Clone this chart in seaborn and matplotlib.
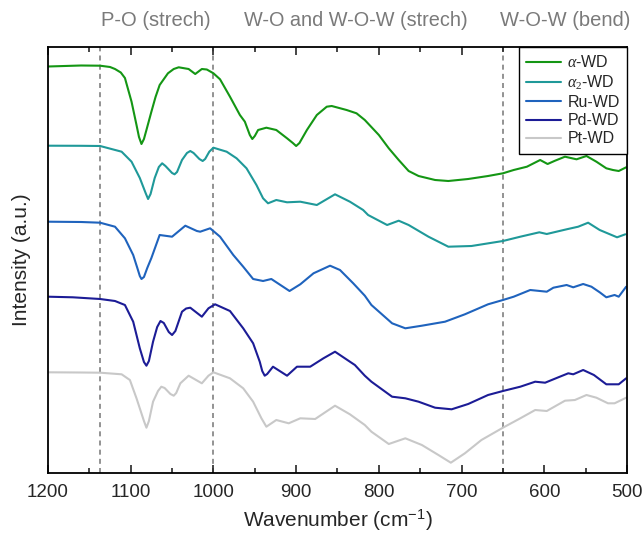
import matplotlib
matplotlib.use("Agg")
import matplotlib.pyplot as plt
from matplotlib.ticker import MultipleLocator
import numpy as np
import pandas as pd
import seaborn as sns

# ---- data (intensity in arbitrary units) ----
wn_a = [1200, 1180, 1160, 1137, 1125, 1119, 1112, 1107, 1099, 1093, 1090, 1087, 1084, 1081, 1075,
        1070, 1065, 1055, 1048, 1042, 1030, 1022, 1014, 1008, 1000, 992, 980, 968, 962, 956, 953,
        950, 946, 936, 924, 911, 904, 900, 896, 887, 875, 863, 857, 839, 827, 817, 800, 788, 776,
        764, 752, 732, 716, 692, 668, 650, 637, 621, 605, 596, 587, 575, 561, 549, 537, 525, 517,
        510, 501]
int_a = [406.5, 407, 407.5, 407.3, 406, 404, 400.5, 395, 371.3, 348, 336, 329, 334, 343, 361.3,
         376, 388, 399.7, 404, 405.7, 404, 399, 404, 403.5, 399.7, 393.7, 376.3, 358, 351.3, 338,
         334, 337, 343, 345.3, 343, 334.7, 330, 327, 330, 343, 358, 366.3, 367, 363, 359.7, 353,
         338, 324.7, 313, 302, 297, 293, 292, 294, 297, 299.7, 303, 306.3, 313, 309, 312.3, 316.3,
         313.7, 317, 311.3, 304.7, 303, 302, 305.7]

wn_a2 = [1200, 1160, 1137, 1111, 1099, 1089, 1082, 1079, 1076, 1071, 1066, 1062, 1058, 1050, 1047,
         1044, 1038, 1032, 1028, 1024, 1017, 1013, 1010, 1005, 1000, 984, 972, 960, 948, 940, 934,
         924, 911, 895, 875, 853, 835, 819, 813, 790, 776, 764, 740, 716, 688, 650, 629, 606, 597,
         573, 559, 547, 533, 512, 502]
int_a2 = [327.3, 327.2, 327, 321.3, 311.3, 295, 280, 274, 279, 295, 306, 309.7, 307, 300, 298.7,
          301, 313, 320, 322, 320, 314, 312, 314, 321.3, 325.3, 321.3, 314.7, 304.7, 288, 274.7,
          269.7, 273, 270.7, 271.3, 268, 278.7, 271.3, 263, 258, 248, 252.3, 248, 236.3, 226.3,
          227, 232, 236.3, 240.7, 239, 243.7, 246.3, 250.3, 243, 235.7, 238.7]

wn_ru = [1200, 1160, 1137, 1119, 1107, 1097, 1092, 1089, 1087, 1084, 1080, 1075, 1065, 1050, 1034,
         1020, 1016, 1004, 992, 976, 964, 952, 940, 930, 919, 908, 895, 879, 859, 847, 831, 817,
         809, 784, 768, 748, 720, 696, 668, 650, 637, 617, 597, 589, 573, 565, 553, 543, 533, 525,
         515, 510, 501]
int_ru = [251.3, 251, 250.3, 246.3, 234.7, 218, 205, 197, 194, 196, 205, 215, 238, 236.3, 247.3,
          242, 241.3, 244.7, 236.3, 218, 206.3, 194, 192, 194, 188, 182, 188.7, 199.7, 207.3, 203,
          189.7, 177.3, 168, 149.7, 144.7, 147.3, 151.3, 158.7, 168.7, 173, 176.3, 183, 181.3,
          185.3, 188, 185.7, 189, 186.3, 180.7, 175.7, 178, 176.3, 186.3]

wn_pd = [1200, 1170, 1137, 1119, 1107, 1097, 1089, 1084, 1081, 1078, 1073, 1068, 1064, 1060, 1054,
         1050, 1046, 1038, 1033, 1028, 1014, 1006, 998, 980, 964, 952, 944, 941, 938, 935, 928,
         911, 899, 883, 867, 853, 835, 829, 817, 809, 784, 768, 752, 732, 712, 692, 668, 650, 629,
         611, 599, 583, 571, 565, 553, 540, 525, 510, 501]
int_pd = [176.3, 175.7, 174, 172, 168, 151.3, 124.7, 111, 107.3, 112, 131.3, 146, 152, 150, 141,
          138, 142, 161.3, 164.5, 165.3, 156.3, 164.7, 168.7, 162, 144.7, 129.7, 111.3, 102, 97.3,
          99, 106.3, 97.3, 106.3, 106.3, 114.7, 121.3, 111.3, 108, 97.3, 91.3, 76.3, 74.7, 71.3,
          65.3, 63.7, 69, 78, 82, 86.3, 91.3, 90.3, 95.7, 99.7, 98.7, 103, 98, 88.7, 88.7, 94.7]

wn_pt = [1200, 1160, 1137, 1111, 1101, 1093, 1084, 1081, 1078, 1073, 1067, 1063, 1059, 1052, 1048,
         1045, 1040, 1030, 1014, 1006, 1000, 980, 964, 952, 942, 936, 924, 909, 895, 877, 853, 835,
         817, 809, 788, 768, 748, 728, 713, 696, 676, 650, 629, 611, 597, 575, 563, 549, 537, 523,
         515, 501]
int_pt = [100.7, 100.5, 100.3, 98.7, 93, 74.7, 52, 45.3, 52, 71.3, 82, 86.3, 85, 79, 77.3, 80,
          89.7, 97.3, 89.7, 97.3, 100.7, 94.7, 84.7, 71.3, 54.7, 46.3, 53, 49.7, 54.7, 54, 67.3,
          58.7, 48, 41.3, 29, 34.7, 28, 18, 10.3, 19.7, 33, 45.3, 54.7, 63, 62, 72.3, 73, 78, 75.3,
          69.7, 69.7, 75.3]

labels = [r"$\alpha$-WD", r"$\alpha_2$-WD", "Ru-WD", "Pd-WD", "Pt-WD"]
band_lines = [1137, 1000, 650]
band_labels = ["P-O (strech)", "W-O and W-O-W (strech)", "W-O-W (bend)"]
band_label_pos = [1070, 828, 575]

colors = ["#149614", "#1f9999", "#1f63bd", "#1c1c96", "#c8c8c8"]

series = [(wn_a, int_a), (wn_a2, int_a2), (wn_ru, int_ru), (wn_pd, int_pd), (wn_pt, int_pt)]
frames = []
for lab, (w, i) in zip(labels, series):
    frames.append(pd.DataFrame({"wn": w, "intensity": i, "sample": lab}))
df = pd.concat(frames, ignore_index=True)

# ---- plotting ----
sns.set_style("white")
plt.rcParams["font.family"] = ["Liberation Sans", "DejaVu Sans"]
plt.rcParams["mathtext.fontset"] = "custom"
plt.rcParams["mathtext.rm"] = "Liberation Serif"
plt.rcParams["mathtext.it"] = "Liberation Serif:italic"
plt.rcParams["mathtext.sf"] = "Liberation Sans"
plt.rcParams["lines.solid_joinstyle"] = "round"

fig = plt.figure(figsize=(6.44, 5.34), dpi=100)
ax = fig.add_axes([48 / 644, 1 - 473 / 534, (627 - 48) / 644, (473 - 47) / 534])

sns.lineplot(data=df, x="wn", y="intensity", hue="sample", palette=dict(zip(labels, colors)),
             sort=False, estimator=None, units="sample", linewidth=1.5, ax=ax, legend=False)

for b in band_lines:
    ax.axvline(b, color="#808080", linestyle=(0, (3, 2.5)), linewidth=1.2, zorder=0)

for t, p, fs in zip(band_labels, band_label_pos, [14.5, 14.3, 14.5]):
    ax.text(p, 1.062, t, transform=ax.get_xaxis_transform(), ha="center", va="center",
            fontsize=fs, color="#7a7a7a")

ax.set_xlim(1200, 500)
ax.set_ylim(0, 426)
ax.xaxis.set_major_locator(MultipleLocator(100))
ax.xaxis.set_minor_locator(MultipleLocator(50))
ax.tick_params(axis="x", which="major", direction="in", length=6, width=1.2, top=True, bottom=True,
               labelsize=13.5, pad=8)
ax.tick_params(axis="x", which="minor", direction="in", length=3.5, width=1.2, top=True, bottom=True)
ax.set_yticks([])
for s in ax.spines.values():
    s.set_linewidth(1.3)
    s.set_color("black")

ax.set_xlabel(r"Wavenumber (cm$^{\mathsf{-1}}$)", fontsize=15, labelpad=5)
ax.set_ylabel("Intensity (a.u.)", fontsize=15, labelpad=12)

handles = [plt.Line2D([], [], color=c, linewidth=1.5) for c in colors]
leg = ax.legend(handles, labels, loc="upper right", bbox_to_anchor=(1.0, 1.0), frameon=True,
                fancybox=False, framealpha=1, edgecolor="black", fontsize=11.5, handlelength=2.2,
                handletextpad=0.4, labelspacing=0.2, borderpad=0.45, borderaxespad=0)
leg.get_frame().set_linewidth(1.0)

fig.savefig("out.png", dpi=100, facecolor="white")
